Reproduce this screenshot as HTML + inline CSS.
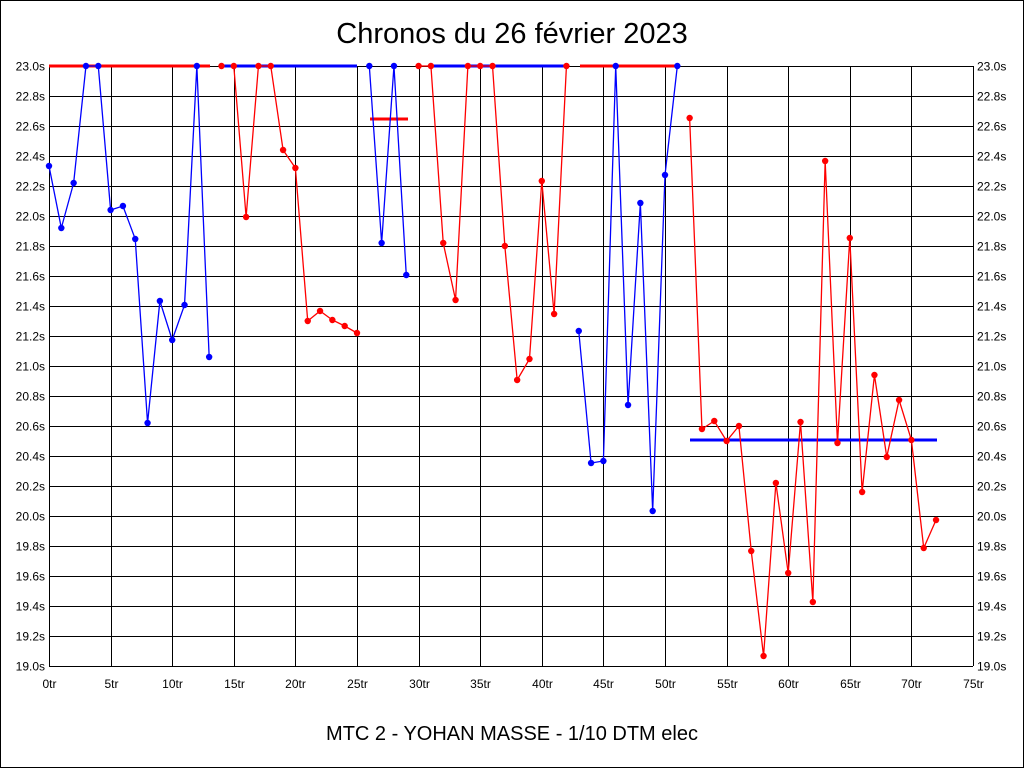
<!DOCTYPE html>
<html><head><meta charset="utf-8"><style>body{margin:0;background:#fff}svg{display:block}</style></head><body>
<svg width="1024" height="768" xmlns="http://www.w3.org/2000/svg" font-family="Liberation Sans, sans-serif">
<rect x="0.5" y="0.5" width="1023" height="767" fill="#fff" stroke="#000"/>
<text x="512" y="43" font-size="29" text-anchor="middle">Chronos du 26 février 2023</text>
<text x="512" y="740" font-size="20" text-anchor="middle">MTC 2 - YOHAN MASSE - 1/10 DTM elec</text>
<g id="grid" stroke="#000" stroke-width="1"></g>
<g id="lab" font-size="12"></g>
<g id="data"></g>
<script>
var g=document.getElementById('grid'),l=document.getElementById('lab'),d=document.getElementById('data'),NS='http://www.w3.org/2000/svg';
function el(p,t,a,txt){var e=document.createElementNS(NS,t);for(var k in a)e.setAttribute(k,a[k]);if(txt!=null)e.textContent=txt;p.appendChild(e);return e;}
for(var i=0;i<=20;i++){var y=66+30*i+0.5;el(g,'line',{x1:49,x2:973,y1:y,y2:y});var v=(23-0.2*i).toFixed(1)+'s';
el(l,'text',{x:45,y:y+4,'text-anchor':'end'},v);el(l,'text',{x:977,y:y+4},v);}
for(var i=0;i<=15;i++){var x=Math.round(49+12.32*5*i)+0.5;el(g,'line',{x1:x,x2:x,y1:66,y2:666});el(l,'text',{x:x,y:688,'text-anchor':'middle'},(5*i)+'tr');}
function X(i){return 49+12.32*i;}
function ser(col,i0,ys){var pts=ys.map(function(y,k){return X(i0+k)+','+y}).join(' ');
el(d,'polyline',{points:pts,fill:'none',stroke:col,'stroke-width':1.3});
ys.forEach(function(y,k){el(d,'circle',{cx:X(i0+k),cy:y,r:3.2,fill:col});});}
function hl(col,x1,x2,y){el(d,'line',{x1:x1,x2:x2,y1:y,y2:y,stroke:col,'stroke-width':3});}
hl('red',49,210,66);hl('blue',222,357,66);hl('red',370,408,119);hl('blue',431,567,66);hl('red',580,678,66);hl('blue',690,937,440);
ser('blue',0,[166,228,183,66,66,210,206,239,423,301,340,305,66,357]);
ser('red',14,[66]);
ser('red',15,[66,217,66,66,150,168,321,311,320,326,333]);
ser('blue',26,[66,243,66,275]);
ser('red',30,[66,66,243,300,66,66,66,246,380,359,181,314,66]);
ser('blue',43,[331,463,461,66,405,203,511,175,66]);
ser('red',52,[118,429,421,441,426,551,656,483,573,422,602,161,443,238,492,375,457,400,440,548,520]);
</script>
</svg>
</body></html>
